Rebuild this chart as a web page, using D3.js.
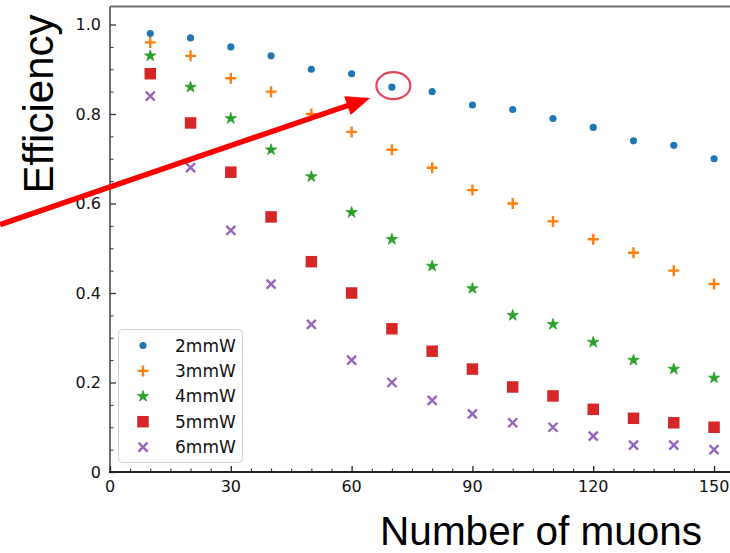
<!DOCTYPE html>
<html>
<head>
<meta charset="utf-8">
<script src="https://cdn.jsdelivr.net/npm/d3@7"></script>
<style>
  html, body { margin: 0; padding: 0; background: #fff; }
  svg { display: block; }
</style>
</head>
<body>
<div id="chart"></div>
<script>
// ---- data ----
const muons = [10, 20, 30, 40, 50, 60, 70, 80, 90, 100, 110, 120, 130, 140, 150];
const seriesNames = ["2mmW", "3mmW", "4mmW", "5mmW", "6mmW"];
const eff2 = [0.98, 0.97, 0.95, 0.93, 0.90, 0.89, 0.86, 0.85, 0.82, 0.81, 0.79, 0.77, 0.74, 0.73, 0.70];
const eff3 = [0.96, 0.93, 0.88, 0.85, 0.80, 0.76, 0.72, 0.68, 0.63, 0.60, 0.56, 0.52, 0.49, 0.45, 0.42];
const eff4 = [0.93, 0.86, 0.79, 0.72, 0.66, 0.58, 0.52, 0.46, 0.41, 0.35, 0.33, 0.29, 0.25, 0.23, 0.21];
const eff5 = [0.89, 0.78, 0.67, 0.57, 0.47, 0.40, 0.32, 0.27, 0.23, 0.19, 0.17, 0.14, 0.12, 0.11, 0.10];
const eff6 = [0.84, 0.68, 0.54, 0.42, 0.33, 0.25, 0.20, 0.16, 0.13, 0.11, 0.10, 0.08, 0.06, 0.06, 0.05];
const xTicks = [0, 30, 60, 90, 120, 150];
const yTicks = [0, 0.2, 0.4, 0.6, 0.8, 1.0];
const yTickLabels = ["0", "0.2", "0.4", "0.6", "0.8", "1.0"];
const xLabel = "Number of muons";
const yLabel = "Efficiency";
// annotation (data coordinates): highlighted point and arrow
const highlight = { x: 70, y: 0.86 };
const arrowFrom = { x: -27.3, y: 0.553 };
const arrowTo = { x: 64.6, y: 0.836 };

const allSeries = [eff2, eff3, eff4, eff5, eff6];
const colors = ["#1f77b4", "#ff7f0e", "#2ca02c", "#d62728", "#9467bd"];
const kinds = ["circle", "plus", "star", "square", "x"];

// ---- layout ----
const W = 730, H = 553;
const svg = d3.select("#chart").append("svg").attr("width", W).attr("height", H)
  .style("font-family", "'DejaVu Sans', sans-serif");

const x = d3.scaleLinear().domain([0, 155]).range([110, 110 + 155 * 4.027]);
const y = d3.scaleLinear().domain([0, 1.04]).range([472, 472 - 1.04 * 447.5]);

// spines
svg.append("line").attr("x1", x(0)).attr("x2", W + 5).attr("y1", y(1.04)).attr("y2", y(1.04))
  .attr("stroke", "#6e6e6e").attr("stroke-width", 2);
svg.append("line").attr("x1", x(0)).attr("x2", x(0)).attr("y1", y(1.04)).attr("y2", y(0))
  .attr("stroke", "#6e6e6e").attr("stroke-width", 2);

// y axis (ticks inward)
const yMinor = d3.range(0, 1.0001, 0.05).filter(v => Math.abs(v * 5 - Math.round(v * 5)) > 1e-6);
const yAxis = d3.axisRight(y).tickValues(yTicks).tickSize(6).tickFormat("");
const yg = svg.append("g").attr("transform", `translate(${x(0)},0)`).call(yAxis);
yg.select(".domain").remove();
yg.selectAll(".tick line").attr("stroke", "#333").attr("stroke-width", 1.3);
const yAxisMinor = d3.axisRight(y).tickValues(yMinor).tickSize(3.5).tickFormat("");
const ygm = svg.append("g").attr("transform", `translate(${x(0)},0)`).call(yAxisMinor);
ygm.select(".domain").remove();
ygm.selectAll(".tick line").attr("stroke", "#333").attr("stroke-width", 1);
svg.append("g").selectAll("text").data(yTicks).join("text")
  .attr("x", 101).attr("y", d => y(d)).attr("dy", "0.36em")
  .attr("text-anchor", "end").attr("font-size", 16).attr("fill", "#111")
  .text((d, i) => yTickLabels[i]);

// x axis (ticks inward)
const xMinor = d3.range(0, 156, 5).filter(v => v % 30 !== 0);
const xAxis = d3.axisTop(x).tickValues(xTicks).tickSize(6).tickFormat("");
const xg = svg.append("g").attr("transform", `translate(0,${y(0)})`).call(xAxis);
xg.select(".domain").remove();
xg.selectAll(".tick line").attr("stroke", "#222").attr("stroke-width", 1.3);
const xAxisMinor = d3.axisTop(x).tickValues(xMinor).tickSize(3.5).tickFormat("");
const xgm = svg.append("g").attr("transform", `translate(0,${y(0)})`).call(xAxisMinor);
xgm.select(".domain").remove();
xgm.selectAll(".tick line").attr("stroke", "#222").attr("stroke-width", 1);
svg.append("line").attr("x1", x(0) - 1).attr("x2", W + 5).attr("y1", y(0)).attr("y2", y(0))
  .attr("stroke", "#222").attr("stroke-width", 2);
svg.append("g").selectAll("text").data(xTicks).join("text")
  .attr("x", d => x(d)).attr("y", 492)
  .attr("text-anchor", "middle").attr("font-size", 16).attr("fill", "#111")
  .text(d => d);

// axis labels
svg.append("text").attr("x", 702).attr("y", 545).attr("text-anchor", "end")
  .style("font-family", "'Liberation Sans', Arial, sans-serif")
  .attr("font-size", 40.5).attr("fill", "#000").text(xLabel);
svg.append("text").attr("transform", "translate(53,104) rotate(-90)").attr("text-anchor", "middle")
  .style("font-family", "'Liberation Sans', Arial, sans-serif")
  .attr("font-size", 42).attr("fill", "#000").text(yLabel);

// markers
function drawMarker(g, kind, color) {
  if (kind === "circle") {
    g.append("path").attr("d", d3.symbol(d3.symbolCircle, 40)()).attr("fill", color);
  } else if (kind === "square") {
    g.append("path").attr("d", d3.symbol(d3.symbolSquare, 132)()).attr("fill", color);
  } else if (kind === "star") {
    g.append("path").attr("d", d3.symbol(d3.symbolStar, 40)()).attr("fill", color)
      .attr("stroke", color).attr("stroke-width", 0.8).attr("stroke-linejoin", "round");
  } else if (kind === "plus") {
    g.append("path").attr("d", "M-5.5,0H5.5M0,-5.5V5.5").attr("stroke", color).attr("stroke-width", 2.4).attr("fill", "none");
  } else if (kind === "x") {
    g.append("path").attr("d", "M-4.5,-4.5L4.5,4.5M-4.5,4.5L4.5,-4.5").attr("stroke", color).attr("stroke-width", 2.4).attr("fill", "none");
  }
}

allSeries.forEach((vals, si) => {
  const g = svg.append("g");
  g.selectAll("g").data(vals).join("g")
    .attr("transform", (d, i) => `translate(${x(muons[i])},${y(d)})`)
    .each(function() { drawMarker(d3.select(this), kinds[si], colors[si]); });
});

// legend
const lg = svg.append("g");
lg.append("rect").attr("x", 118.5).attr("y", 329.5).attr("width", 124).attr("height", 133)
  .attr("rx", 4).attr("fill", "#fff").attr("fill-opacity", 0.85).attr("stroke", "#d0d0d0").attr("stroke-width", 1);
seriesNames.forEach((name, i) => {
  const cy = 345.5 + i * 25.4;
  const mg = lg.append("g").attr("transform", `translate(143,${cy})`);
  drawMarker(mg, kinds[i], colors[i]);
  lg.append("text").attr("x", 175).attr("y", cy).attr("dy", "0.36em")
    .attr("font-size", 17).attr("fill", "#111").text(name);
});

// annotation: ellipse + arrow
svg.append("ellipse").attr("cx", x(highlight.x) + 1.5).attr("cy", y(highlight.y) - 1.5)
  .attr("rx", 17).attr("ry", 13.5).attr("fill", "none").attr("stroke", "#e0485c").attr("stroke-width", 2.2);

const ax1 = x(arrowFrom.x), ay1 = y(arrowFrom.y), ax2 = x(arrowTo.x), ay2 = y(arrowTo.y);
const ang = Math.atan2(ay2 - ay1, ax2 - ax1);
const headLen = 24, headHalf = 10;
const bx = ax2 - headLen * Math.cos(ang), by = ay2 - headLen * Math.sin(ang);
svg.append("line").attr("x1", ax1).attr("y1", ay1).attr("x2", bx + 2 * Math.cos(ang)).attr("y2", by + 2 * Math.sin(ang))
  .attr("stroke", "#ff0000").attr("stroke-width", 5.5);
svg.append("path")
  .attr("d", `M${ax2},${ay2}L${bx - headHalf * Math.sin(ang)},${by + headHalf * Math.cos(ang)}L${bx + headHalf * Math.sin(ang)},${by - headHalf * Math.cos(ang)}Z`)
  .attr("fill", "#ff0000");
</script>
</body>
</html>
